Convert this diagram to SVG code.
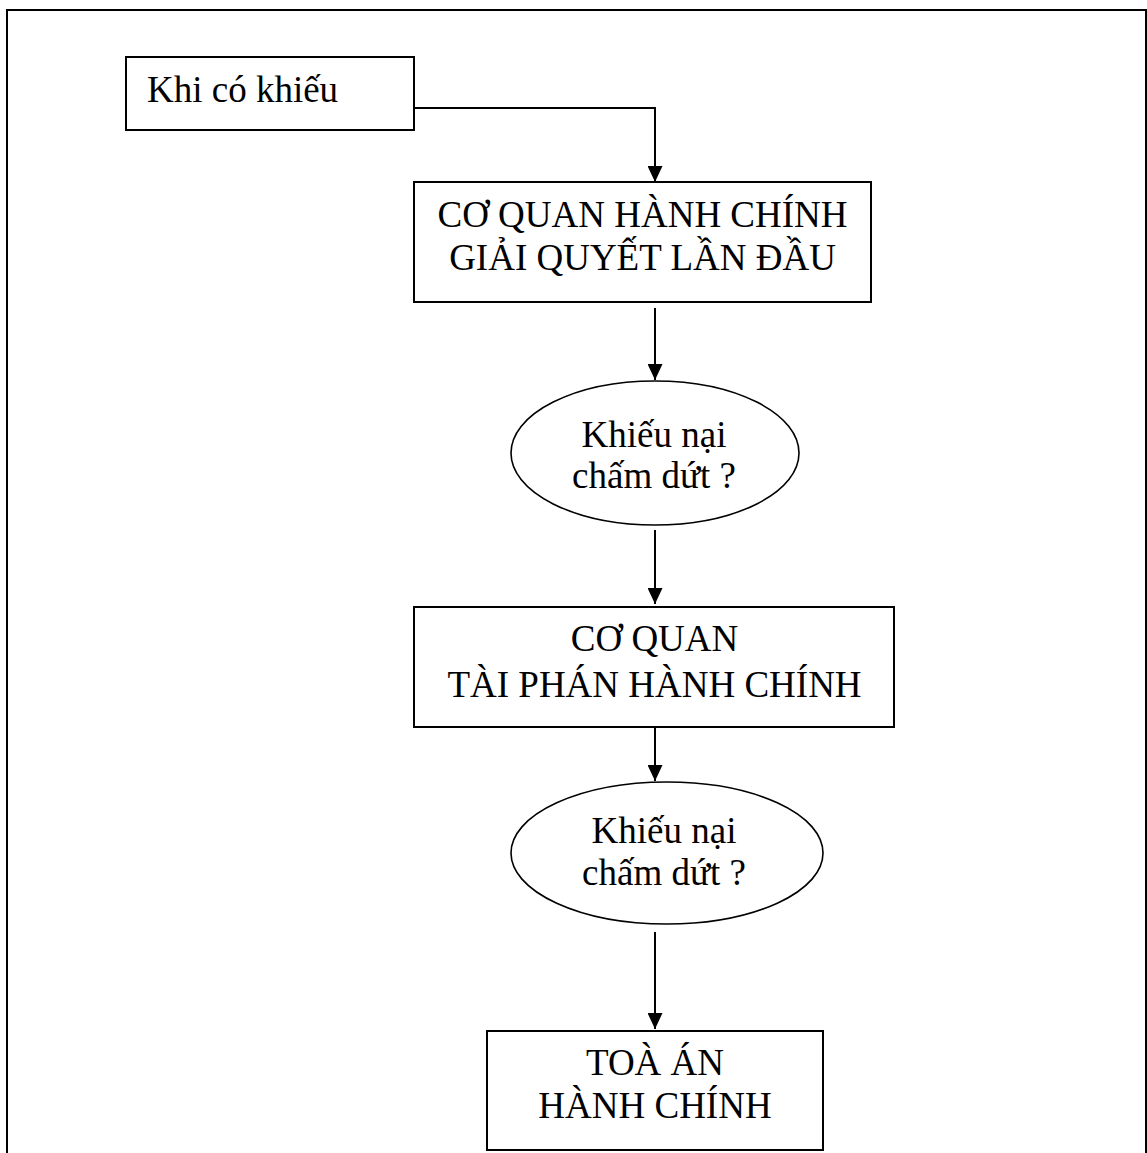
<svg xmlns="http://www.w3.org/2000/svg" width="1147" height="1153" viewBox="0 0 1147 1153">
  <style>
    .box { fill: #ffffff; stroke: #000000; stroke-width: 2; }
    .oval { fill: #ffffff; stroke: #000000; stroke-width: 1.6; }
    .frame { fill: none; stroke: #000000; stroke-width: 2; }
    .conn { fill: none; stroke: #000000; stroke-width: 2; }
    .lbl { font-family: "Liberation Serif", "Times New Roman", "DejaVu Serif", serif; font-size: 37px; fill: #000000; }
    .mid { text-anchor: middle; }
  </style>
  <defs>
    <marker id="arrow" markerUnits="userSpaceOnUse" markerWidth="16" markerHeight="15" refX="16" refY="7.5" orient="auto" viewBox="0 0 16 15">
      <path d="M0,0 L16,7.5 L0,15 Z" fill="#000000"/>
    </marker>
  </defs>
  <rect width="1147" height="1153" fill="#ffffff"/>
  <path class="frame" d="M7,1153 V10 H1146 V1153"/>

  <g id="connectors">
    <path class="conn" d="M414,108 H655 V182" marker-end="url(#arrow)"/>
    <path class="conn" d="M655,308 V380" marker-end="url(#arrow)"/>
    <path class="conn" d="M655,530 V604" marker-end="url(#arrow)"/>
    <path class="conn" d="M655,728 V781" marker-end="url(#arrow)"/>
    <path class="conn" d="M655,932 V1029" marker-end="url(#arrow)"/>
  </g>

  <g id="start">
    <rect class="box" x="126" y="57" width="288" height="73"/>
    <text class="lbl" x="147" y="102">Khi có khiếu</text>
  </g>

  <g id="first-resolution">
    <rect class="box" x="414" y="182" width="457" height="120"/>
    <text class="lbl mid" x="642.5" y="227">CƠ QUAN HÀNH CHÍNH</text>
    <text class="lbl mid" x="642.5" y="270">GIẢI QUYẾT LẦN ĐẦU</text>
  </g>

  <g id="decision-1">
    <ellipse class="oval" cx="655" cy="453" rx="144" ry="72"/>
    <text class="lbl mid" x="654" y="447">Khiếu nại</text>
    <text class="lbl mid" x="654" y="488">chấm dứt ?</text>
  </g>

  <g id="tribunal">
    <rect class="box" x="414" y="607" width="480" height="120"/>
    <text class="lbl mid" x="654.5" y="651">CƠ QUAN</text>
    <text class="lbl mid" x="654.5" y="697">TÀI PHÁN HÀNH CHÍNH</text>
  </g>

  <g id="decision-2">
    <ellipse class="oval" cx="667" cy="853" rx="156" ry="71"/>
    <text class="lbl mid" x="664" y="843">Khiếu nại</text>
    <text class="lbl mid" x="664" y="885">chấm dứt ?</text>
  </g>

  <g id="court">
    <rect class="box" x="487" y="1031" width="336" height="119"/>
    <text class="lbl mid" x="655" y="1075">TOÀ ÁN</text>
    <text class="lbl mid" x="655" y="1118">HÀNH CHÍNH</text>
  </g>
</svg>
